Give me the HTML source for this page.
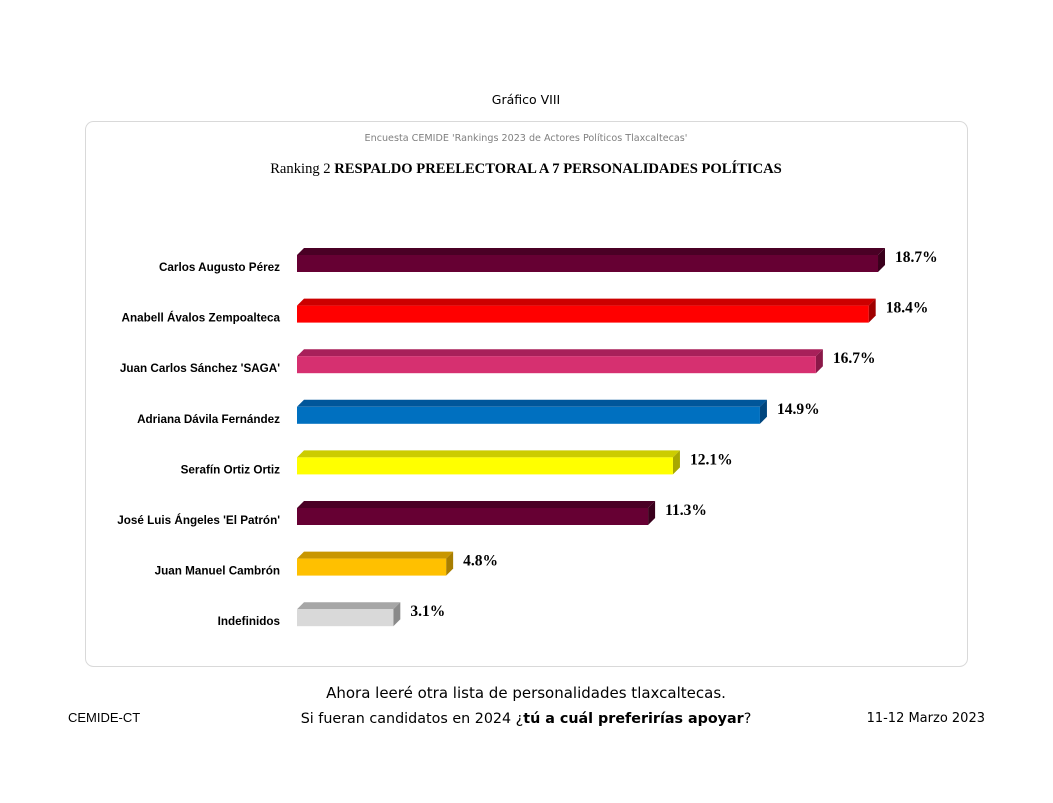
<!DOCTYPE html>
<html><head><meta charset="utf-8"><style>
body{margin:0;background:#fff;width:1053px;height:798px;overflow:hidden}
</style></head><body>
<svg width="1053" height="798" xmlns="http://www.w3.org/2000/svg" font-family="DejaVu Sans, sans-serif">
<text x="526" y="104" font-size="12.5" text-anchor="middle" fill="#000">Gráfico VIII</text>
<rect x="85.5" y="121.5" width="882" height="545" rx="8" fill="#fff" stroke="#d9d9d9"/>
<text x="526" y="141" font-size="9.6" text-anchor="middle" fill="#808080">Encuesta CEMIDE 'Rankings 2023 de Actores Políticos Tlaxcaltecas'</text>
<text x="526" y="173" font-size="14.6" text-anchor="middle" font-family="Liberation Serif, serif" fill="#000">Ranking 2  <tspan font-weight="bold">RESPALDO PREELECTORAL A 7 PERSONALIDADES POLÍTICAS</tspan></text>
<g id="bars" font-size="11.7" font-weight="bold" font-family="Liberation Sans, sans-serif" fill="#000"></g>
<text x="526" y="698" font-size="15" text-anchor="middle">Ahora leeré otra lista de personalidades tlaxcaltecas.</text>
<text x="526" y="723" font-size="14.3" text-anchor="middle">Si fueran candidatos en 2024 ¿<tspan font-weight="bold">tú a cuál preferirías apoyar</tspan>?</text>
<text x="68" y="722" font-size="13" font-family="Liberation Sans, sans-serif">CEMIDE-CT</text>
<text x="985" y="722" font-size="13" text-anchor="end">11-12 Marzo 2023</text>
</svg>
<script>
var d=[["Carlos Augusto Pérez",18.7,"#660033","#4a0025","#3a001c"],
["Anabell Ávalos Zempoalteca",18.4,"#ff0000","#cc0000","#a00000"],
["Juan Carlos Sánchez 'SAGA'",16.7,"#d63070","#a8205a","#8a1848"],
["Adriana Dávila Fernández",14.9,"#0070c0","#00569a","#00467e"],
["Serafín Ortiz Ortiz",12.1,"#ffff00","#cccc00","#a8a800"],
["José Luis Ángeles 'El Patrón'",11.3,"#660033","#4a0025","#3a001c"],
["Juan Manuel Cambrón",4.8,"#ffc000","#c89600","#a87e00"],
["Indefinidos",3.1,"#d9d9d9","#a6a6a6","#8a8a8a"]];
var g=document.getElementById("bars"),s="";
d.forEach(function(r,i){
 var y=255+i*50.6,x=297,w=r[1]*31.07,dp=7;
 s+='<polygon points="'+x+','+y+' '+(x+dp)+','+(y-dp)+' '+(x+w+dp)+','+(y-dp)+' '+(x+w)+','+y+'" fill="'+r[3]+'"/>';
 s+='<polygon points="'+(x+w)+','+y+' '+(x+w+dp)+','+(y-dp)+' '+(x+w+dp)+','+(y+17-dp)+' '+(x+w)+','+(y+17)+'" fill="'+r[4]+'"/>';
 s+='<rect x="'+x+'" y="'+y+'" width="'+w+'" height="17" fill="'+r[2]+'"/>';
 s+='<text x="280" y="'+(y+16)+'" text-anchor="end">'+r[0]+'</text>';
 s+='<text x="'+(x+w+dp+10)+'" y="'+(y+7)+'" font-family="Liberation Serif, serif" font-size="15.5">'+r[1].toFixed(1)+'%</text>';
});
g.innerHTML=s;
</script>
</body></html>
